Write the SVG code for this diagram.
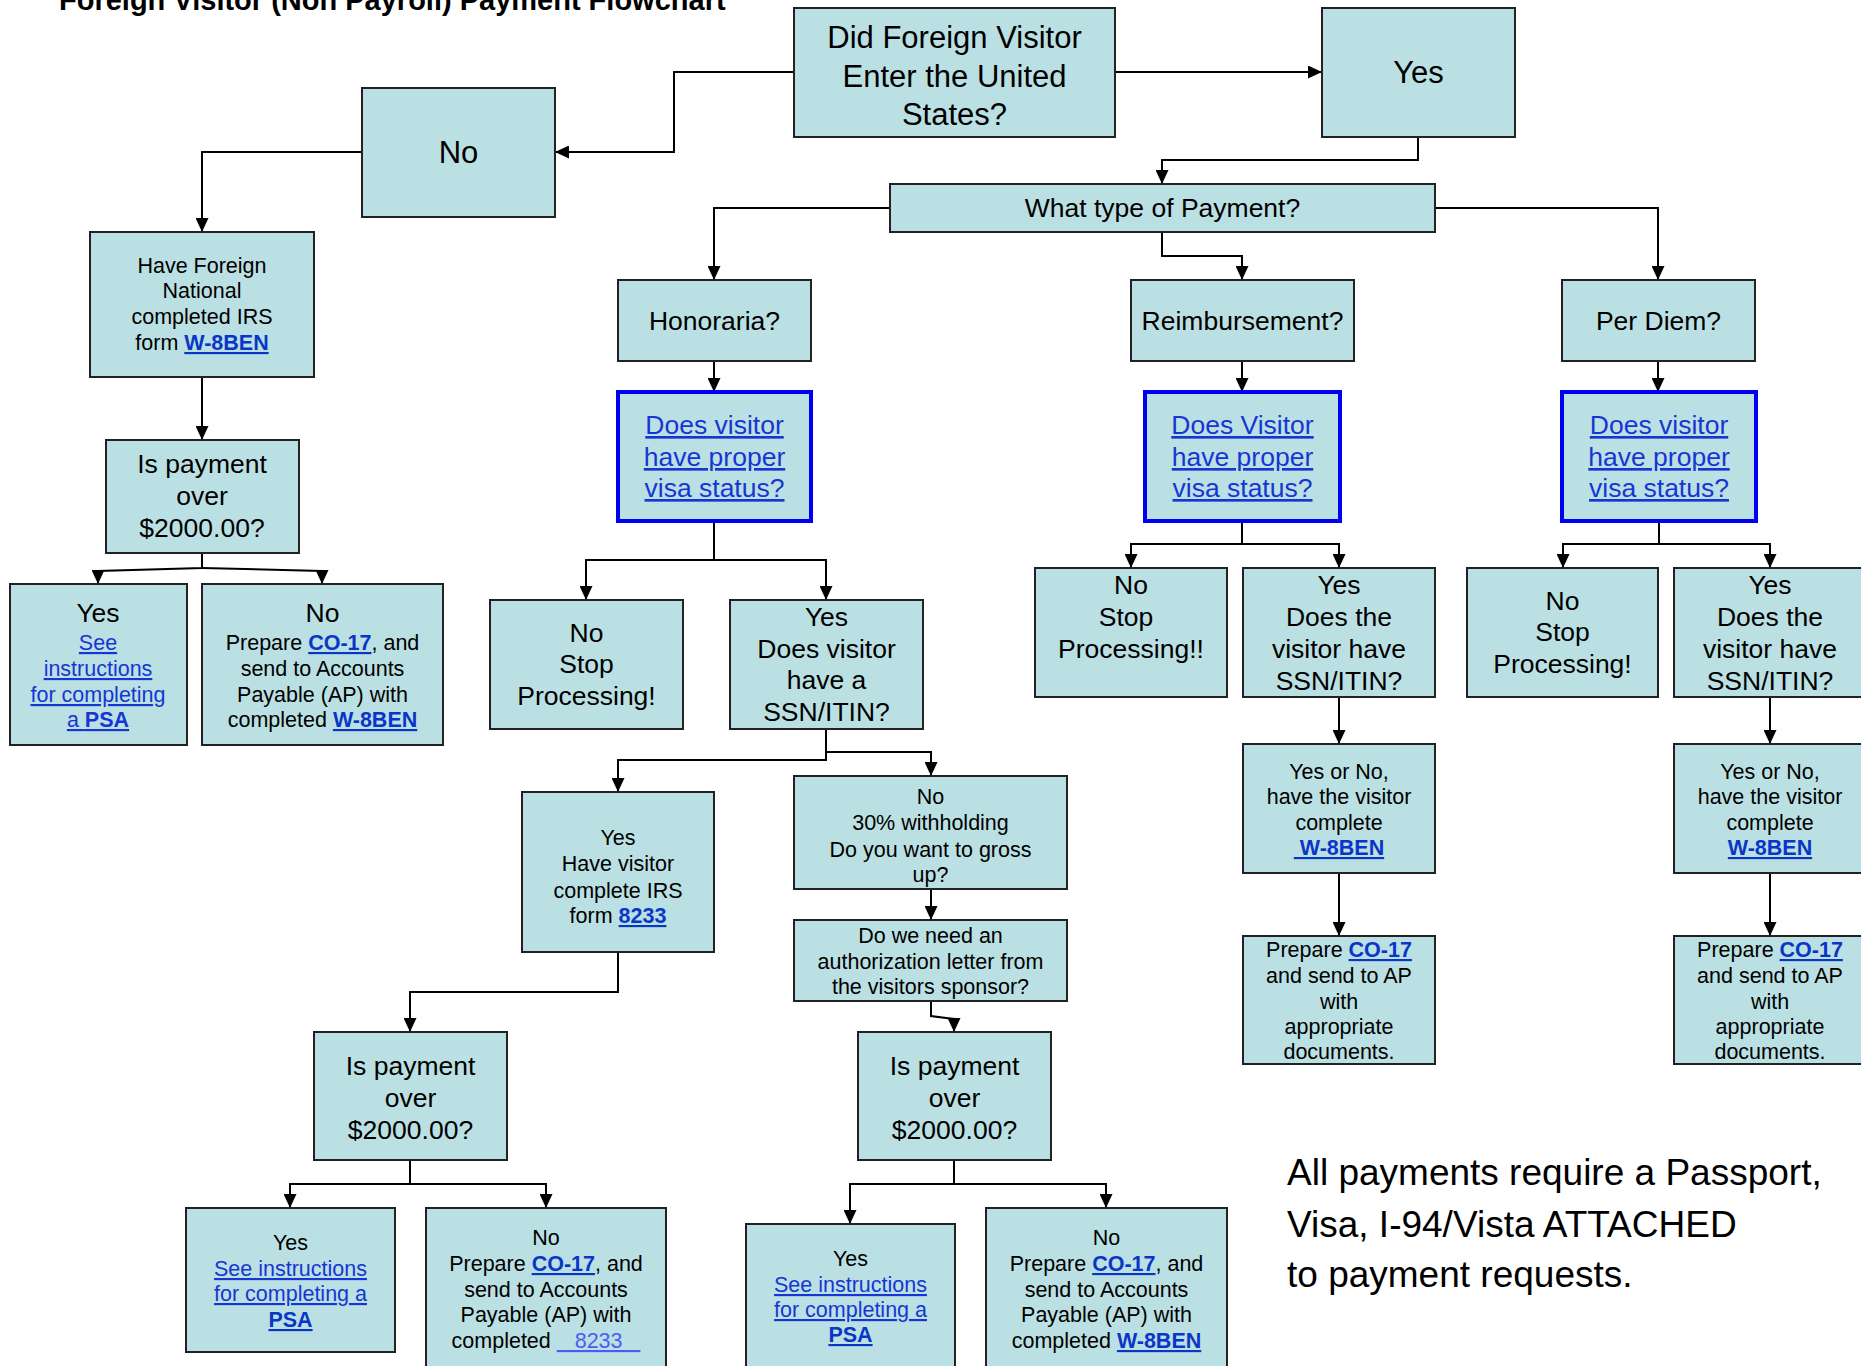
<svg xmlns="http://www.w3.org/2000/svg" width="1861" height="1366" viewBox="0 0 1861 1366">
<style>
.box{fill:#BBE0E3;stroke:#222;stroke-width:2}
.vbox{fill:#BBE0E3;stroke:#0000F0;stroke-width:4}
.t{font-family:"Liberation Sans",Arial,sans-serif;fill:#000;text-anchor:middle}
.L{font-size:31px}
.M{font-size:26.5px}
.S{font-size:21.5px}
.lk{fill:#1636D4;text-decoration:underline}
.lb{fill:#0A36C8;font-weight:bold;text-decoration:underline}
.lt{fill:#4A5CF5;text-decoration:underline}
.conn path{fill:none;stroke:#000;stroke-width:2;marker-end:url(#ah)}
</style>
<defs>
<marker id="ah" markerUnits="userSpaceOnUse" markerWidth="14" markerHeight="13" refX="14" refY="6.5" orient="auto">
<path d="M0,0 L14,6.5 L0,13 z" fill="#000"/>
</marker>
</defs>
<rect width="1861" height="1366" fill="#fff"/>

<text x="59" y="10" style="font-family:'Liberation Sans',Arial,sans-serif;font-weight:bold;font-size:29px;fill:#000">Foreign Visitor (Non Payroll) Payment Flowchart</text>

<g class="conn">
<path d="M794,72 H674 V152 H555"/>
<path d="M1115,72 H1322"/>
<path d="M362,152 H202 V232"/>
<path d="M202,377 V440"/>
<path d="M202,553 V568 L98,571 V584"/>
<path d="M202,568 L322,571 V584"/>
<path d="M1418,137 V160 H1162 V184"/>
<path d="M890,208 H714 V280"/>
<path d="M1162,232 V256 H1242 V280"/>
<path d="M1435,208 H1658 V280"/>
<path d="M714,361 V392"/>
<path d="M1242,361 V392"/>
<path d="M1658,361 V392"/>
<path d="M714,521 V560 H586 V600"/>
<path d="M714,560 H826 V600"/>
<path d="M826,729 V752 H931 V776"/>
<path d="M826,752 V760 H618 V792"/>
<path d="M618,952 V992 H410 V1032"/>
<path d="M410,1160 V1184 H290 V1208"/>
<path d="M410,1184 H546 V1208"/>
<path d="M931,889 V920"/>
<path d="M931,1001 V1016 L954,1019 V1032"/>
<path d="M954,1160 V1184 H850 V1224"/>
<path d="M954,1184 H1106 V1208"/>
<path d="M1242,521 V544 H1131 V568"/>
<path d="M1242,544 H1339 V568"/>
<path d="M1339,697 V744"/>
<path d="M1339,873 V936"/>
<path d="M1659,521 V544 H1563 V568"/>
<path d="M1659,544 H1770 V568"/>
<path d="M1770,697 V744"/>
<path d="M1770,873 V936"/>
</g>

<g id="n-enter"><rect class="box" x="794" y="8" width="321" height="129"/>
<text class="t L"><tspan x="954.5" y="48">Did Foreign Visitor</tspan><tspan x="954.5" y="87">Enter the United</tspan><tspan x="954.5" y="125">States?</tspan></text></g>

<g id="n-yes-top"><rect class="box" x="1322" y="8" width="193" height="129"/>
<text class="t L" x="1418.5" y="83">Yes</text></g>

<g id="n-no-top"><rect class="box" x="362" y="88" width="193" height="129"/>
<text class="t L" x="458.5" y="163">No</text></g>

<g id="n-have-foreign"><rect class="box" x="90" y="232" width="224" height="145"/>
<text class="t S"><tspan x="202" y="273">Have Foreign</tspan><tspan x="202" y="298">National</tspan><tspan x="202" y="324">completed IRS</tspan><tspan x="202" y="350">form <tspan class="lb">W-8BEN</tspan></tspan></text></g>

<g id="n-pay1"><rect class="box" x="106" y="440" width="193" height="113"/>
<text class="t M"><tspan x="202" y="473">Is payment</tspan><tspan x="202" y="505">over</tspan><tspan x="202" y="537">$2000.00?</tspan></text></g>

<g id="n-psa1"><rect class="box" x="10" y="584" width="177" height="161"/>
<text class="t M" x="98" y="622">Yes</text>
<text class="t S"><tspan x="98" y="650" class="lk">See</tspan><tspan x="98" y="676" class="lk">instructions</tspan><tspan x="98" y="702" class="lk">for completing</tspan><tspan x="98" y="727" class="lk">a <tspan style="font-weight:bold">PSA</tspan></tspan></text></g>

<g id="n-no1"><rect class="box" x="202" y="584" width="241" height="161"/>
<text class="t M" x="322.5" y="622">No</text>
<text class="t S"><tspan x="322.5" y="650">Prepare <tspan class="lb">CO-17</tspan>, and</tspan><tspan x="322.5" y="676">send to Accounts</tspan><tspan x="322.5" y="702">Payable (AP) with</tspan><tspan x="322.5" y="727">completed <tspan class="lb">W-8BEN</tspan></tspan></text></g>

<g id="n-what"><rect class="box" x="890" y="184" width="545" height="48"/>
<text class="t M" x="1162.5" y="217">What type of Payment?</text></g>

<g id="n-honoraria"><rect class="box" x="618" y="280" width="193" height="81"/>
<text class="t M" x="714.5" y="330">Honoraria?</text></g>

<g id="n-reimb"><rect class="box" x="1131" y="280" width="223" height="81"/>
<text class="t M" x="1242.5" y="330">Reimbursement?</text></g>

<g id="n-perdiem"><rect class="box" x="1562" y="280" width="193" height="81"/>
<text class="t M" x="1658.5" y="330">Per Diem?</text></g>

<g id="n-visa1"><rect class="vbox" x="618" y="392" width="193" height="129"/>
<text class="t M"><tspan class="lk" x="714.5" y="434">Does visitor</tspan><tspan class="lk" x="714.5" y="466">have proper</tspan><tspan class="lk" x="714.5" y="497">visa status?</tspan></text></g>

<g id="n-visa2"><rect class="vbox" x="1145" y="392" width="195" height="129"/>
<text class="t M"><tspan class="lk" x="1242.5" y="434">Does Visitor</tspan><tspan class="lk" x="1242.5" y="466">have proper</tspan><tspan class="lk" x="1242.5" y="497">visa status?</tspan></text></g>

<g id="n-visa3"><rect class="vbox" x="1562" y="392" width="194" height="129"/>
<text class="t M"><tspan class="lk" x="1659" y="434">Does visitor</tspan><tspan class="lk" x="1659" y="466">have proper</tspan><tspan class="lk" x="1659" y="497">visa status?</tspan></text></g>

<g id="n-h-no"><rect class="box" x="490" y="600" width="193" height="129"/>
<text class="t M"><tspan x="586.5" y="642">No</tspan><tspan x="586.5" y="673">Stop</tspan><tspan x="586.5" y="705">Processing!</tspan></text></g>

<g id="n-h-yes"><rect class="box" x="730" y="600" width="193" height="129"/>
<text class="t M"><tspan x="826.5" y="626">Yes</tspan><tspan x="826.5" y="658">Does visitor</tspan><tspan x="826.5" y="689">have a</tspan><tspan x="826.5" y="721">SSN/ITIN?</tspan></text></g>

<g id="n-8233"><rect class="box" x="522" y="792" width="192" height="160"/>
<text class="t S"><tspan x="618" y="845">Yes</tspan><tspan x="618" y="871">Have visitor</tspan><tspan x="618" y="898">complete IRS</tspan><tspan x="618" y="923">form <tspan class="lb">8233</tspan></tspan></text></g>

<g id="n-30"><rect class="box" x="794" y="776" width="273" height="113"/>
<text class="t S"><tspan x="930.5" y="804">No</tspan><tspan x="930.5" y="830">30% withholding</tspan><tspan x="930.5" y="857">Do you want to gross</tspan><tspan x="930.5" y="882">up?</tspan></text></g>

<g id="n-auth"><rect class="box" x="794" y="920" width="273" height="81"/>
<text class="t S"><tspan x="930.5" y="943">Do we need an</tspan><tspan x="930.5" y="969">authorization letter from</tspan><tspan x="930.5" y="994">the visitors sponsor?</tspan></text></g>

<g id="n-pay2"><rect class="box" x="314" y="1032" width="193" height="128"/>
<text class="t M"><tspan x="410.5" y="1075">Is payment</tspan><tspan x="410.5" y="1107">over</tspan><tspan x="410.5" y="1139">$2000.00?</tspan></text></g>

<g id="n-pay3"><rect class="box" x="858" y="1032" width="193" height="128"/>
<text class="t M"><tspan x="954.5" y="1075">Is payment</tspan><tspan x="954.5" y="1107">over</tspan><tspan x="954.5" y="1139">$2000.00?</tspan></text></g>

<g id="n-psa2"><rect class="box" x="186" y="1208" width="209" height="144"/>
<text class="t S"><tspan x="290.5" y="1250">Yes</tspan><tspan class="lk" x="290.5" y="1276">See instructions</tspan><tspan class="lk" x="290.5" y="1301">for completing a</tspan><tspan class="lb" x="290.5" y="1327">PSA</tspan></text></g>

<g id="n-no2"><rect class="box" x="426" y="1208" width="240" height="175"/>
<text class="t S" xml:space="preserve"><tspan x="546" y="1245">No</tspan><tspan x="546" y="1271">Prepare <tspan class="lb">CO-17</tspan>, and</tspan><tspan x="546" y="1297">send to Accounts</tspan><tspan x="546" y="1322">Payable (AP) with</tspan><tspan x="546" y="1348">completed <tspan class="lt">   8233   </tspan></tspan></text></g>

<g id="n-psa3"><rect class="box" x="746" y="1224" width="209" height="160"/>
<text class="t S"><tspan x="850.5" y="1266">Yes</tspan><tspan class="lk" x="850.5" y="1292">See instructions</tspan><tspan class="lk" x="850.5" y="1317">for completing a</tspan><tspan class="lb" x="850.5" y="1342">PSA</tspan></text></g>

<g id="n-no3"><rect class="box" x="986" y="1208" width="241" height="175"/>
<text class="t S"><tspan x="1106.5" y="1245">No</tspan><tspan x="1106.5" y="1271">Prepare <tspan class="lb">CO-17</tspan>, and</tspan><tspan x="1106.5" y="1297">send to Accounts</tspan><tspan x="1106.5" y="1322">Payable (AP) with</tspan><tspan x="1106.5" y="1348">completed <tspan class="lb">W-8BEN</tspan></tspan></text></g>

<g id="n-r-no"><rect class="box" x="1035" y="568" width="192" height="129"/>
<text class="t M"><tspan x="1131" y="594">No</tspan><tspan x="1126" y="626">Stop</tspan><tspan x="1131" y="658">Processing!!</tspan></text></g>

<g id="n-r-yes"><rect class="box" x="1243" y="568" width="192" height="129"/>
<text class="t M"><tspan x="1339" y="594">Yes</tspan><tspan x="1339" y="626">Does the</tspan><tspan x="1339" y="658">visitor have</tspan><tspan x="1339" y="690">SSN/ITIN?</tspan></text></g>

<g id="n-r-w8"><rect class="box" x="1243" y="744" width="192" height="129"/>
<text class="t S" xml:space="preserve"><tspan x="1339" y="779">Yes or No,</tspan><tspan x="1339" y="804">have the visitor</tspan><tspan x="1339" y="830">complete</tspan><tspan x="1339" y="855" class="lb"> W-8BEN</tspan></text></g>

<g id="n-r-co"><rect class="box" x="1243" y="936" width="192" height="128"/>
<text class="t S"><tspan x="1339" y="957">Prepare <tspan class="lb">CO-17</tspan></tspan><tspan x="1339" y="983">and send to AP</tspan><tspan x="1339" y="1009">with</tspan><tspan x="1339" y="1034">appropriate</tspan><tspan x="1339" y="1059">documents.</tspan></text></g>

<g id="n-p-no"><rect class="box" x="1467" y="568" width="191" height="129"/>
<text class="t M"><tspan x="1562.5" y="610">No</tspan><tspan x="1562.5" y="641">Stop</tspan><tspan x="1562.5" y="673">Processing!</tspan></text></g>

<g id="n-p-yes"><rect class="box" x="1674" y="568" width="192" height="129"/>
<text class="t M"><tspan x="1770" y="594">Yes</tspan><tspan x="1770" y="626">Does the</tspan><tspan x="1770" y="658">visitor have</tspan><tspan x="1770" y="690">SSN/ITIN?</tspan></text></g>

<g id="n-p-w8"><rect class="box" x="1674" y="744" width="192" height="129"/>
<text class="t S"><tspan x="1770" y="779">Yes or No,</tspan><tspan x="1770" y="804">have the visitor</tspan><tspan x="1770" y="830">complete</tspan><tspan x="1770" y="855" class="lb">W-8BEN</tspan></text></g>

<g id="n-p-co"><rect class="box" x="1674" y="936" width="192" height="128"/>
<text class="t S"><tspan x="1770" y="957">Prepare <tspan class="lb">CO-17</tspan></tspan><tspan x="1770" y="983">and send to AP</tspan><tspan x="1770" y="1009">with</tspan><tspan x="1770" y="1034">appropriate</tspan><tspan x="1770" y="1059">documents.</tspan></text></g>

<g id="note">
<text style="font-family:'Liberation Sans',Arial,sans-serif;font-size:37px;fill:#000"><tspan x="1287" y="1185">All payments require a Passport,</tspan><tspan x="1287" y="1237">Visa, I-94/Vista ATTACHED</tspan><tspan x="1287" y="1287">to payment requests.</tspan></text>
</g>
</svg>
